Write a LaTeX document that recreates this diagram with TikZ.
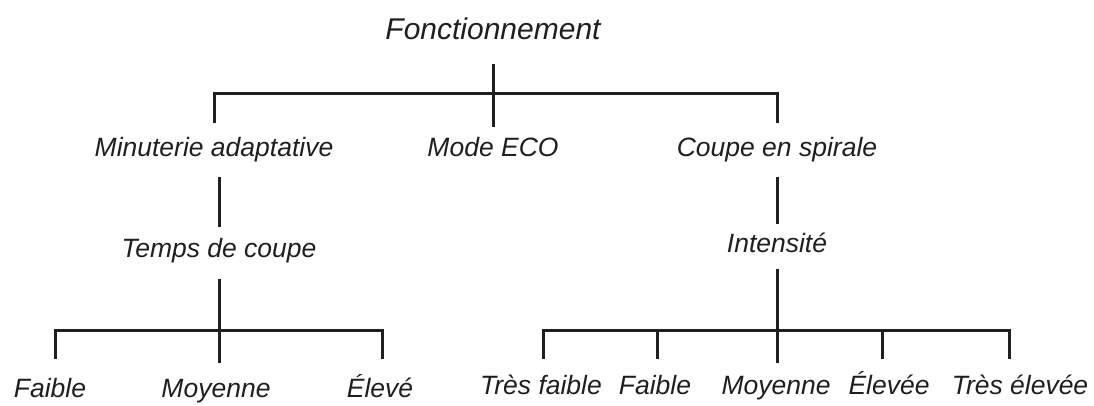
\documentclass[tikz,border=0pt]{standalone}
\usepackage{fontspec}
\setmainfont{Liberation Sans}
\begin{document}
\begin{tikzpicture}[x=1pt,y=-1pt,
  lbl/.style={font=\fontsize{26.5}{30}\selectfont\itshape, text=black!88, anchor=base, inner sep=0pt, text height=19pt, text depth=6pt},
  ttl/.style={font=\fontsize{30}{34}\selectfont\itshape, text=black!88, anchor=base, inner sep=0pt, text height=22pt, text depth=6pt},
  ln/.style={line width=3pt, draw=black!88}]
\useasboundingbox (0,0) rectangle (1094,406);
% nodes
\node[ttl] (root) at (493,40) {Fonctionnement};
\node[lbl] (mina) at (214,157) {Minuterie adaptative};
\node[lbl] (eco) at (493,157) {Mode ECO};
\node[lbl] (coupe) at (777,157) {Coupe en spirale};
\node[lbl] (temps) at (219,257) {Temps de coupe};
\node[lbl] (inten) at (777,252) {Intensité};
\node[lbl] (fa1) at (50,397) {Faible};
\node[lbl] (mo1) at (216,397) {Moyenne};
\node[lbl] (el1) at (380,397) {Élevé};
\node[lbl] (tf2) at (541,394) {Très faible};
\node[lbl] (fa2) at (655,394) {Faible};
\node[lbl] (mo2) at (776,394) {Moyenne};
\node[lbl] (el2) at (889,394) {Élevée};
\node[lbl] (te2) at (1020,394) {Très élevée};
% junctions
\coordinate (j1) at (493,94);
\coordinate (j2) at (219,330);
\coordinate (j3) at (777,330);
% top level
\draw[ln, shorten <=18pt] (root.south) -- (j1);
\draw[ln, shorten <=15pt, shorten >=15pt] (mina.north) |- (j1) -| (coupe.north);
\draw[ln, shorten >=11pt] (j1) -- (eco.north);
% second level
\draw[ln, shorten <=14pt, shorten >=11pt] (temps.north |- mina.south) -- (temps.north);
\draw[ln, shorten <=14pt, shorten >=9pt] (coupe.south) -- (inten.north);
% bottom left
\draw[ln, shorten <=16pt] (temps.south) -- (j2);
\draw[ln, shorten <=19pt, shorten >=19pt] ([xshift=5pt]fa1.north) |- (j2) -| ([xshift=2pt]el1.north);
\draw[ln, shorten >=15pt] (j2) -- ([xshift=3pt]mo1.north);
% bottom right
\draw[ln, shorten <=11pt] (inten.south) -- (j3);
\draw[ln, shorten <=16pt, shorten >=16pt] ([xshift=2pt]tf2.north) |- (j3) -| ([xshift=-11pt]te2.north);
\draw[ln, shorten >=16pt] (j3 -| fa2.north) ++(2pt,0) coordinate (k1) -- ([xshift=2pt]fa2.north);
\draw[ln, shorten >=12pt] (j3) -- ([xshift=1pt]mo2.north);
\draw[ln, shorten >=16pt] (j3 -| el2.north) ++(-7pt,0) coordinate (k2) -- ([xshift=-7pt]el2.north);
\end{tikzpicture}
\end{document}
